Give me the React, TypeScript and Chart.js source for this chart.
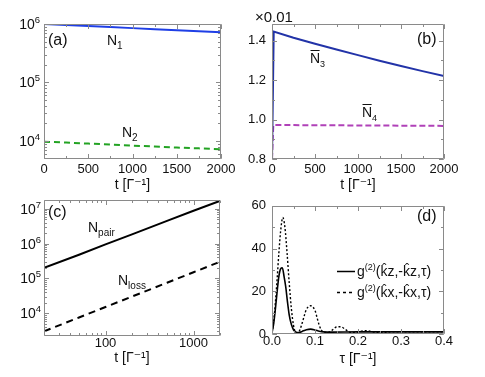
import React, { useEffect, useRef } from "react";
import { Chart, registerables } from "chart.js";
Chart.register(...registerables);

const FONT = '"Liberation Sans", Arial, "DejaVu Sans", sans-serif';
const FRAME = "#8a8a8a";
const INK = "#111111";

// ---------- Panel (a)
const tA = [0, 250, 500, 750, 1000, 1250, 1500, 1750, 2000];
const N1 = [1.0e6, 0.96e6, 0.92e6, 0.885e6, 0.85e6, 0.815e6, 0.78e6, 0.75e6, 0.72e6];
const N2 = [9.7e3, 9.35e3, 9.0e3, 8.65e3, 8.3e3, 8.0e3, 7.7e3, 7.45e3, 7.2e3];
const xTicksA = [0, 500, 1000, 1500, 2000];
const xLabelsA = ["0", "500", "1000", "1500", "2000"];
const yTicksA = [1e4, 1e5, 1e6];
const yExpA = ["4", "5", "6"];

// ---------- Panel (b)
const tB3 = [0, 20, 250, 500, 750, 1000, 1250, 1500, 1750, 2000];
const N3 = [0.8, 1.447, 1.415, 1.385, 1.356, 1.327, 1.299, 1.272, 1.246, 1.221];
const tB4 = [0, 15, 250, 500, 750, 1000, 1250, 1500, 1750, 2000];
const N4 = [0.8, 0.972, 0.972, 0.971, 0.971, 0.97, 0.97, 0.969, 0.969, 0.968];
const xTicksB = [0, 500, 1000, 1500, 2000];
const xLabelsB = ["0", "500", "1000", "1500", "2000"];
const yTicksB = [0.8, 1.0, 1.2, 1.4];
const yLabelsB = ["0.8", "1.0", "1.2", "1.4"];

// ---------- Panel (c)
const tC = [20, 50, 100, 200, 500, 1000, 2000];
const Npair = [2.0e5, 4.8e5, 9.5e5, 1.85e6, 4.5e6, 8.8e6, 1.7e7];
const Nloss = [3.0e3, 7.5e3, 1.5e4, 3.0e4, 7.5e4, 1.5e5, 3.0e5];
const xTicksC = [100, 1000];
const xLabelsC = ["100", "1000"];
const yTicksC = [1e4, 1e5, 1e6, 1e7];
const yExpC = ["4", "5", "6", "7"];

// ---------- Panel (d)
const tauZ = [0, 0.004, 0.008, 0.012, 0.016, 0.02, 0.024, 0.028, 0.032, 0.036, 0.04, 0.045, 0.05, 0.055, 0.06, 0.065, 0.07, 0.08, 0.09, 0.1, 0.11, 0.12, 0.14, 0.2, 0.3, 0.4];
const g2z = [0.5, 5, 12, 20, 27, 30.5, 31, 27, 22, 15, 9, 4.5, 2, 1, 0.7, 0.8, 1.2, 2.0, 2.3, 1.9, 1.3, 1.0, 0.9, 1.0, 1.0, 1.0];
const tauX = [0, 0.004, 0.008, 0.012, 0.016, 0.02, 0.025, 0.03, 0.035, 0.04, 0.045, 0.05, 0.055, 0.06, 0.065, 0.07, 0.075, 0.08, 0.09, 0.1, 0.105, 0.11, 0.115, 0.12, 0.13, 0.14, 0.15, 0.16, 0.17, 0.18, 0.19, 0.2, 0.21, 0.22, 0.23, 0.24, 0.26, 0.28, 0.3, 0.4];
const g2x = [0.5, 6, 15, 26, 38, 48, 54.5, 50, 38, 24, 12, 4, 0.8, 0.6, 2, 5, 8.5, 11.5, 13.2, 11, 7.5, 4, 1.8, 0.8, 0.7, 1.8, 3.3, 3.4, 2.2, 0.9, 0.6, 0.9, 1.4, 1.5, 1.2, 0.8, 0.8, 1.0, 1.0, 1.0];
const xTicksD = [0, 0.1, 0.2, 0.3, 0.4];
const xLabelsD = ["0.0", "0.1", "0.2", "0.3", "0.4"];
const yTicksD = [0, 20, 40, 60];
const yLabelsD = ["0", "20", "40", "60"];

type Run = [string, number, number, number?];
type Label = { x: number; y: number; runs: Run[]; over?: boolean };
type LegendItem = { x1: number; x2: number; y: number; dash: number[]; color: string; tx: number; runs: Run[] };

function pts(xs: number[], ys: number[]) {
  return xs.map((x, i) => ({ x, y: ys[i] }));
}

function linMinor(min: number, max: number, step: number) {
  const out: number[] = [];
  const n = Math.round((max - min) / step);
  for (let i = 0; i <= n; i++) out.push(min + i * step);
  return out;
}
function logMinor(min: number, max: number) {
  const out: number[] = [];
  for (let d = Math.floor(Math.log10(min)); d <= Math.ceil(Math.log10(max)); d++) {
    for (let m = 2; m <= 9; m++) {
      const v = m * Math.pow(10, d);
      if (v >= min && v <= max) out.push(v);
    }
  }
  return out;
}

function runsWidth(ctx: CanvasRenderingContext2D, runs: Run[]) {
  let w = 0;
  for (const [t, size] of runs) {
    ctx.font = `${size}px ${FONT}`;
    w += ctx.measureText(t).width;
  }
  return w;
}

function drawRuns(ctx: CanvasRenderingContext2D, x: number, y: number, runs: Run[]) {
  let cx = x;
  for (const [t, size, dy, hat] of runs) {
    ctx.font = `${size}px ${FONT}`;
    ctx.fillText(t, cx, y + dy);
    const w = ctx.measureText(t).width;
    if (hat) {
      ctx.font = `${size * 0.9}px ${FONT}`;
      const hw = ctx.measureText("ˆ").width;
      ctx.fillText("ˆ", cx + (w - hw) / 2 + 0.5, y + dy - size * 0.22);
    }
    cx += w;
  }
  return cx;
}

interface Spec {
  ox: number; oy: number; w: number; h: number;
  area: { l: number; t: number; r: number; b: number };
  xType: string; yType: string;
  xMin: number; xMax: number; yMin: number; yMax: number;
  xTicks: number[]; xLabels: string[]; yTicks: number[]; yLabels: string[];
  yExp?: string[];
  xMinor: number[]; yMinor: number[];
  xTitle: string; titlePad: number; yPad: number; xPad: number;
  datasets: any[];
  labels: Label[];
  legend?: LegendItem[];
}

function makeConfig(s: Spec): any {
  const plugin = {
    id: "decor",
    afterDraw(chart: any) {
      const { ctx, chartArea: a, scales } = chart;
      const xs = scales.x, ys = scales.y;
      ctx.save();
      ctx.strokeStyle = FRAME;
      ctx.lineWidth = 1;
      const L = Math.round(a.left) + 0.5, R = Math.round(a.right) - 0.5;
      const T = Math.round(a.top) + 0.5, B = Math.round(a.bottom) - 0.5;
      ctx.beginPath();
      ctx.rect(L, T, R - L, B - T);
      ctx.stroke();
      const tick = (vals: number[], len: number) => {
        ctx.beginPath();
        for (const v of vals) {
          const p = Math.round(xs.getPixelForValue(v)) + 0.5;
          if (p < L - 1 || p > R + 1) continue;
          ctx.moveTo(p, B); ctx.lineTo(p, B - len);
          ctx.moveTo(p, T); ctx.lineTo(p, T + len);
        }
        ctx.stroke();
      };
      const ticky = (vals: number[], len: number) => {
        ctx.beginPath();
        for (const v of vals) {
          const p = Math.round(ys.getPixelForValue(v)) + 0.5;
          if (p < T - 1 || p > B + 1) continue;
          ctx.moveTo(L, p); ctx.lineTo(L + len, p);
          ctx.moveTo(R, p); ctx.lineTo(R - len, p);
        }
        ctx.stroke();
      };
      tick(s.xMinor, 2.5);
      tick(s.xTicks, 4.5);
      ticky(s.yMinor, 2.5);
      ticky(s.yTicks, 4.5);

      ctx.fillStyle = INK;
      ctx.textBaseline = "alphabetic";
      ctx.textAlign = "left";
      // power-of-ten tick labels with raised exponents
      if (s.yExp) {
        s.yTicks.forEach((v, i) => {
          const runs: Run[] = [["10", 14, 0], [s.yExp![i], 9.5, -6]];
          const w = runsWidth(ctx, runs);
          const p = ys.getPixelForValue(v);
          drawRuns(ctx, a.left - s.yPad - w, p + 5, runs);
        });
      }
      for (const lb of s.labels) {
        const x = lb.x - s.ox, y = lb.y - s.oy;
        drawRuns(ctx, x, y, lb.runs);
        if (lb.over) {
          ctx.font = `${lb.runs[0][1]}px ${FONT}`;
          const w = ctx.measureText(lb.runs[0][0]).width;
          ctx.strokeStyle = INK;
          ctx.lineWidth = 1;
          ctx.beginPath();
          ctx.moveTo(x + 0.5, Math.round(y - lb.runs[0][1] * 0.78 - 2.5) + 0.5);
          ctx.lineTo(x + w - 0.5, Math.round(y - lb.runs[0][1] * 0.78 - 2.5) + 0.5);
          ctx.stroke();
        }
      }
      for (const lg of s.legend || []) {
        ctx.strokeStyle = lg.color;
        ctx.lineWidth = 1.5;
        ctx.setLineDash(lg.dash);
        ctx.beginPath();
        ctx.moveTo(lg.x1 - s.ox, lg.y - s.oy + 0.5);
        ctx.lineTo(lg.x2 - s.ox, lg.y - s.oy + 0.5);
        ctx.stroke();
        ctx.setLineDash([]);
        ctx.fillStyle = INK;
        drawRuns(ctx, lg.tx - s.ox, lg.y - s.oy + 5, lg.runs);
      }
      ctx.restore();
    },
  };

  const tickFont = { family: FONT, size: 13 };
  return {
    type: "line",
    data: { datasets: s.datasets },
    options: {
      responsive: false,
      animation: false,
      events: [],
      layout: { padding: { left: 0, top: s.area.t - s.oy, right: s.ox + s.w - s.area.r, bottom: 0 } },
      plugins: { legend: { display: false }, tooltip: { enabled: false } },
      elements: { point: { radius: 0 } },
      scales: {
        x: {
          type: s.xType,
          min: s.xMin,
          max: s.xMax,
          grid: { display: false, drawTicks: false },
          border: { display: false },
          afterBuildTicks: (sc: any) => { sc.ticks = s.xTicks.map((v) => ({ value: v })); },
          afterFit: (sc: any) => { sc.height = s.oy + s.h - s.area.b; },
          ticks: {
            autoSkip: false, maxRotation: 0, minRotation: 0, padding: s.xPad,
            color: INK, font: tickFont,
            callback: (v: number) => { const i = s.xTicks.findIndex((t) => Math.abs(t - v) < 1e-9 * Math.max(1, Math.abs(t))); return i >= 0 ? s.xLabels[i] : ""; },
          },
          title: { display: true, text: s.xTitle, color: INK, font: { family: FONT, size: 14, lineHeight: 1 }, padding: { top: 0, bottom: s.titlePad } },
        },
        y: {
          type: s.yType,
          min: s.yMin,
          max: s.yMax,
          grid: { display: false, drawTicks: false },
          border: { display: false },
          afterBuildTicks: (sc: any) => { sc.ticks = s.yTicks.map((v) => ({ value: v })); },
          afterFit: (sc: any) => { sc.width = s.area.l - s.ox; },
          ticks: {
            display: !s.yExp,
            autoSkip: false, padding: s.yPad, color: INK, font: tickFont,
            callback: (v: number) => { const i = s.yTicks.findIndex((t) => Math.abs(t - v) < 1e-9 * Math.max(1, Math.abs(t))); return i >= 0 ? s.yLabels[i] : ""; },
          },
        },
      },
    },
    plugins: [plugin],
  };
}

const specs: Spec[] = [
  {
    ox: 0, oy: 0, w: 242, h: 192,
    area: { l: 44, t: 24, r: 221, b: 159 },
    xType: "linear", yType: "logarithmic",
    xMin: 0, xMax: 2000, yMin: 4900, yMax: 1e6,
    xTicks: xTicksA, xLabels: xLabelsA, yTicks: yTicksA, yLabels: yExpA, yExp: yExpA,
    xMinor: linMinor(0, 2000, 250), yMinor: logMinor(4900, 1e6),
    xTitle: "t [Γ⁻¹]", titlePad: 0, yPad: 4, xPad: 3,
    datasets: [
      { data: pts(tA, N1), borderColor: "#1f3fe6", borderWidth: 2, fill: false },
      { data: pts(tA, N2), borderColor: "#23a323", borderWidth: 2, borderDash: [6, 4], fill: false },
    ],
    labels: [
      { x: 48, y: 45, runs: [["(a)", 16, 0]] },
      { x: 107, y: 45, runs: [["N", 14, 0], ["1", 10, 4]] },
      { x: 122, y: 137, runs: [["N", 14, 0], ["2", 10, 4]] },
    ],
  },
  {
    ox: 242, oy: 0, w: 243, h: 192,
    area: { l: 272, t: 24, r: 444, b: 159 },
    xType: "linear", yType: "linear",
    xMin: 0, xMax: 2000, yMin: 0.8, yMax: 1.485,
    xTicks: xTicksB, xLabels: xLabelsB, yTicks: yTicksB, yLabels: yLabelsB,
    xMinor: linMinor(0, 2000, 250), yMinor: linMinor(0.8, 1.4, 0.1),
    xTitle: "t [Γ⁻¹]", titlePad: 0, yPad: 6, xPad: 3,
    datasets: [
      { data: pts(tB3, N3), borderColor: "#2233a8", borderWidth: 2, fill: false },
      { data: pts(tB4, N4), borderColor: "#b041b8", borderWidth: 2, borderDash: [6, 3], fill: false },
    ],
    labels: [
      { x: 255, y: 22, runs: [["×0.01", 15, 0]] },
      { x: 417, y: 44, runs: [["(b)", 16, 0]] },
      { x: 310, y: 63, runs: [["N", 14, 0], ["3", 9, 4]], over: true },
      { x: 362, y: 117, runs: [["N", 14, 0], ["4", 9, 4]], over: true },
    ],
  },
  {
    ox: 0, oy: 192, w: 242, h: 185,
    area: { l: 44, t: 200, r: 220, b: 336 },
    xType: "logarithmic", yType: "logarithmic",
    xMin: 20, xMax: 2000, yMin: 2200, yMax: 1.8e7,
    xTicks: xTicksC, xLabels: xLabelsC, yTicks: yTicksC, yLabels: yExpC, yExp: yExpC,
    xMinor: logMinor(20, 2000), yMinor: logMinor(2200, 1.8e7),
    xTitle: "t [Γ⁻¹]", titlePad: 12, yPad: 3, xPad: 0,
    datasets: [
      { data: pts(tC, Npair), borderColor: "#000000", borderWidth: 2, fill: false },
      { data: pts(tC, Nloss), borderColor: "#000000", borderWidth: 2, borderDash: [7, 5], fill: false },
    ],
    labels: [
      { x: 48, y: 217, runs: [["(c)", 16, 0]] },
      { x: 88, y: 232, runs: [["N", 14, 0], ["pair", 10, 4]] },
      { x: 118, y: 285, runs: [["N", 14, 0], ["loss", 10, 4]] },
    ],
  },
  {
    ox: 242, oy: 192, w: 243, h: 185,
    area: { l: 272, t: 200, r: 444, b: 334 },
    xType: "linear", yType: "linear",
    xMin: 0, xMax: 0.4, yMin: 0, yMax: 60,
    xTicks: xTicksD, xLabels: xLabelsD, yTicks: yTicksD, yLabels: yLabelsD,
    xMinor: linMinor(0, 0.4, 0.05), yMinor: linMinor(0, 60, 10),
    xTitle: "τ [Γ⁻¹]", titlePad: 11, yPad: 6, xPad: 0,
    datasets: [
      { data: pts(tauZ, g2z), borderColor: "#000000", borderWidth: 1.6, cubicInterpolationMode: "monotone", fill: false },
      { data: pts(tauX, g2x), borderColor: "#000000", borderWidth: 1.4, borderDash: [2, 2], cubicInterpolationMode: "monotone", fill: false },
    ],
    labels: [{ x: 417, y: 221, runs: [["(d)", 16, 0]] }],
    legend: [
      { x1: 337, x2: 355, y: 271, dash: [], color: "#000", tx: 357, runs: [["g", 14, 0], ["(2)", 9, -6], ["(", 14, 0], ["k", 14, 0, 1], ["z,-", 14, 0], ["k", 14, 0, 1], ["z,τ)", 14, 0]] },
      { x1: 337, x2: 355, y: 292, dash: [3, 3], color: "#000", tx: 357, runs: [["g", 14, 0], ["(2)", 9, -6], ["(", 14, 0], ["k", 14, 0, 1], ["x,-", 14, 0], ["k", 14, 0, 1], ["x,τ)", 14, 0]] },
    ],
  },
];

function Panel({ spec }: { spec: Spec }) {
  const ref = useRef<HTMLCanvasElement>(null);
  useEffect(() => {
    const chart = new Chart(ref.current as HTMLCanvasElement, makeConfig(spec));
    return () => chart.destroy();
  }, [spec]);
  return (
    <canvas
      ref={ref}
      width={spec.w}
      height={spec.h}
      style={{ position: "absolute", left: spec.ox, top: spec.oy, width: spec.w, height: spec.h }}
    />
  );
}

export default function App() {
  return (
    <div style={{ position: "fixed", left: 0, top: 0, width: 485, height: 377, background: "#fff", overflow: "hidden" }}>
      {specs.map((s, i) => (
        <Panel key={i} spec={s} />
      ))}
    </div>
  );
}
